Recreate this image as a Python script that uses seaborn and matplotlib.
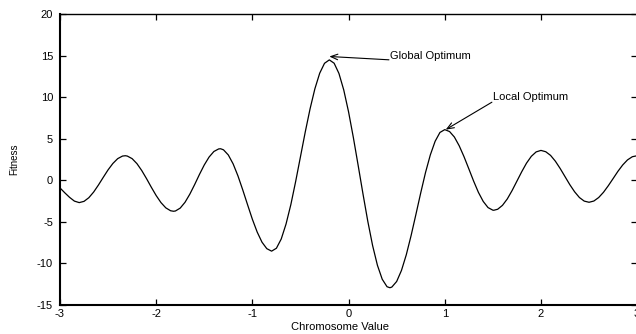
import matplotlib
matplotlib.use('Agg')
import matplotlib.pyplot as plt
import seaborn as sns

# curve (chromosome value -> fitness)
chromosome = [-3.00, -2.95, -2.90, -2.85, -2.80, -2.75, -2.70, -2.65, -2.60, -2.55,
              -2.50, -2.45, -2.40, -2.35, -2.32, -2.30, -2.25, -2.20, -2.15, -2.10,
              -2.05, -2.00, -1.95, -1.90, -1.85, -1.82, -1.80, -1.75, -1.70, -1.65,
              -1.60, -1.55, -1.50, -1.45, -1.40, -1.35, -1.33, -1.30, -1.25, -1.20,
              -1.15, -1.10, -1.05, -1.00, -0.95, -0.90, -0.85, -0.80, -0.75, -0.70,
              -0.65, -0.60, -0.55, -0.50, -0.45, -0.40, -0.35, -0.30, -0.25, -0.20,
              -0.15, -0.10, -0.05, 0.00, 0.05, 0.10, 0.15, 0.20, 0.25, 0.30,
              0.35, 0.40, 0.43, 0.45, 0.50, 0.55, 0.60, 0.65, 0.70, 0.75,
              0.80, 0.85, 0.90, 0.95, 1.00, 1.05, 1.10, 1.15, 1.20, 1.25,
              1.30, 1.35, 1.40, 1.45, 1.50, 1.51, 1.55, 1.60, 1.65, 1.70,
              1.75, 1.80, 1.85, 1.90, 1.95, 2.00, 2.05, 2.10, 2.15, 2.20,
              2.25, 2.30, 2.35, 2.40, 2.45, 2.50, 2.55, 2.60, 2.65, 2.70,
              2.75, 2.80, 2.85, 2.90, 2.95, 3.00]
fitness = [-0.91, -1.50, -2.05, -2.50, -2.68, -2.53, -2.09, -1.41, -0.56, 0.36,
           1.26, 2.03, 2.61, 2.92, 2.96, 2.92, 2.61, 2.01, 1.18, 0.20,
           -0.84, -1.83, -2.68, -3.31, -3.66, -3.72, -3.69, -3.34, -2.64, -1.66,
           -0.51, 0.71, 1.85, 2.80, 3.47, 3.78, 3.80, 3.67, 3.05, 1.98,
           0.54, -1.15, -2.93, -4.68, -6.22, -7.44, -8.22, -8.52, -8.17, -7.06,
           -5.26, -2.92, -0.14, 2.84, 5.83, 8.61, 11.02, 12.89, 14.08, 14.49,
           14.09, 12.86, 10.87, 8.24, 5.14, 1.78, -1.64, -4.93, -7.85, -10.22,
           -11.90, -12.80, -12.92, -12.84, -12.17, -10.84, -8.96, -6.65, -4.11, -1.52,
           0.94, 3.06, 4.70, 5.76, 6.10, 5.87, 5.21, 4.16, 2.85, 1.39,
           -0.09, -1.45, -2.54, -3.28, -3.59, -3.60, -3.48, -3.01, -2.24, -1.23,
           -0.10, 1.03, 2.07, 2.89, 3.42, 3.60, 3.44, 3.00, 2.30, 1.42,
           0.45, -0.52, -1.38, -2.07, -2.50, -2.64, -2.49, -2.07, -1.44, -0.65,
           0.21, 1.08, 1.85, 2.46, 2.84, 2.96]

x_ticks = [-3, -2, -1, 0, 1, 2, 3]
y_ticks = [-15, -10, -5, 0, 5, 10, 15, 20]

# annotations: label text, label anchor, arrow start, arrow tip
notes = [
    ("Global Optimum", (0.43, 15.0), (0.42, 14.5), (-0.20, 14.9)),
    ("Local Optimum", (1.50, 10.0), (1.49, 9.4), (1.01, 6.1)),
]

sns.set_style("ticks")
plt.rcParams['font.family'] = ['Liberation Sans', 'DejaVu Sans']
plt.rcParams['axes.unicode_minus'] = False
plt.rcParams['text.color'] = 'black'
plt.rcParams['axes.labelcolor'] = 'black'

fig = plt.figure(figsize=(6.36, 3.34), dpi=100)
ax = fig.add_axes([0.0943, 0.0868, 0.9075, 0.871])

sns.lineplot(x=chromosome, y=fitness, color='black', linewidth=0.9, ax=ax)

ax.set_xlim(-3, 3)
ax.set_ylim(-15, 20)
ax.set_xticks(x_ticks)
ax.set_yticks(y_ticks)
ax.tick_params(direction='in', length=4, width=0.9, labelsize=8, colors='black',
               top=True, right=True)
ax.tick_params(axis='x', pad=3)
ax.tick_params(axis='y', pad=5)

for side in ['left', 'bottom']:
    ax.spines[side].set_linewidth(1.5)
    ax.spines[side].set_color('black')
ax.spines['top'].set_linewidth(1.0)
ax.spines['top'].set_color('black')
ax.spines['right'].set_visible(False)

ax.set_xlabel('Chromosome Value', fontsize=8, color='black')
ax.xaxis.set_label_coords(0.485, -0.06)
ax.set_ylabel('Fitness', fontsize=7, color='black')
ax.yaxis.set_label_coords(-0.07, 0.5)

for text, pos, start, tip in notes:
    ax.text(pos[0], pos[1], text, fontsize=8, ha='left', va='center', color='black')
    ax.annotate('', xy=tip, xytext=start,
                arrowprops=dict(arrowstyle='->,head_length=0.5,head_width=0.2',
                                color='black', lw=0.8, shrinkA=0, shrinkB=0))

fig.savefig('out.png', dpi=100)
